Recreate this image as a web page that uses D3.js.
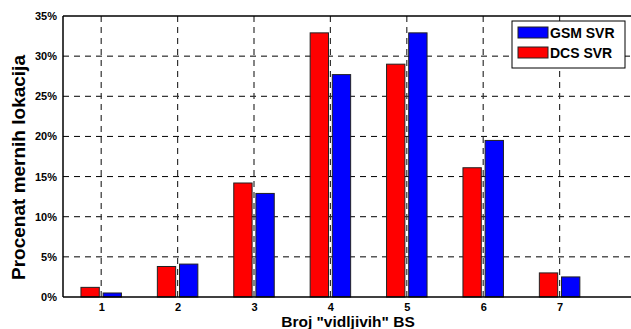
<!DOCTYPE html>
<html lang="en">
<head>
    <meta charset="UTF-8">
    <title>Broj vidljivih BS</title>
    <script src="https://d3js.org/d3.v7.min.js"></script>
    <style>
        body { margin: 0; background: #fff; }
        text { font-family: "Liberation Sans", Arial, sans-serif; font-weight: bold; }
    </style>
</head>
<body>
    <div id="chart"></div>
    <script>
        const categories = [1, 2, 3, 4, 5, 6, 7];
        const dcsValues = [1.2, 3.8, 14.2, 32.9, 29.0, 16.1, 3.0];
        const gsmValues = [0.5, 4.1, 12.9, 27.7, 32.9, 19.5, 2.5];
        const yTicks = [0, 5, 10, 15, 20, 25, 30, 35];

        const width = 631, height = 329;
        const margin = { top: 16, right: -5, bottom: 32, left: 63 };

        const svg = d3.select("#chart")
            .append("svg")
            .attr("width", width)
            .attr("height", height);

        const x = d3.scaleLinear()
            .domain([0.5, 8])
            .range([margin.left, width - margin.right]);

        const y = d3.scaleLinear()
            .domain([0, 35])
            .range([height - margin.bottom, margin.top]);

        // grid
        const grid = svg.append("g");
        grid.selectAll(".hg")
            .data(yTicks.slice(1, -1))
            .join("line")
            .attr("x1", margin.left).attr("x2", width)
            .attr("y1", d => y(d)).attr("y2", d => y(d))
            .attr("stroke", "#000")
            .attr("stroke-width", 1)
            .attr("stroke-dasharray", "6,5");
        grid.selectAll(".vg")
            .data(categories)
            .join("line")
            .attr("x1", d => x(d)).attr("x2", d => x(d))
            .attr("y1", margin.top).attr("y2", y(0))
            .attr("stroke", "#333")
            .attr("stroke-width", 1.2)
            .attr("stroke-dasharray", "6,5");

        // bars
        const barW = 0.24;
        const off = 0.145;
        svg.append("g").selectAll("rect")
            .data(categories)
            .join("rect")
            .attr("x", (d) => x(d - off - barW / 2))
            .attr("width", x(barW) - x(0))
            .attr("y", (d, i) => y(dcsValues[i]))
            .attr("height", (d, i) => y(0) - y(dcsValues[i]))
            .attr("fill", "#ff0000")
            .attr("stroke", "#222")
            .attr("stroke-width", 1);

        svg.append("g").selectAll("rect")
            .data(categories)
            .join("rect")
            .attr("x", (d) => x(d + off - barW / 2))
            .attr("width", x(barW) - x(0))
            .attr("y", (d, i) => y(gsmValues[i]))
            .attr("height", (d, i) => y(0) - y(gsmValues[i]))
            .attr("fill", "#0000ff")
            .attr("stroke", "#222")
            .attr("stroke-width", 1);

        // axes
        const yAxis = d3.axisLeft(y)
            .tickValues(yTicks)
            .tickFormat(d => d + "%")
            .tickSize(0)
            .tickPadding(6);
        const gy = svg.append("g")
            .attr("transform", `translate(${margin.left},0)`)
            .call(yAxis);
        gy.select(".domain").remove();
        gy.selectAll("text").style("font-size", "11px").attr("fill", "#000");

        const xAxis = d3.axisBottom(x)
            .tickValues(categories)
            .tickFormat(d3.format("d"))
            .tickSize(0)
            .tickPadding(6);
        const gx = svg.append("g")
            .attr("transform", `translate(0,${y(0)})`)
            .call(xAxis);
        gx.select(".domain").remove();
        gx.selectAll("text").style("font-size", "11px").attr("fill", "#000");

        // frame
        svg.append("line")
            .attr("x1", margin.left).attr("x2", margin.left)
            .attr("y1", margin.top).attr("y2", y(0))
            .attr("stroke", "#000").attr("stroke-width", 1.5);
        svg.append("line")
            .attr("x1", margin.left).attr("x2", width)
            .attr("y1", margin.top).attr("y2", margin.top)
            .attr("stroke", "#000").attr("stroke-width", 1.5);
        svg.append("line")
            .attr("x1", margin.left).attr("x2", width)
            .attr("y1", y(0)).attr("y2", y(0))
            .attr("stroke", "#000").attr("stroke-width", 1.5);

        // axis titles
        svg.append("text")
            .attr("transform", `translate(25,${(margin.top + y(0)) / 2 + 11}) rotate(-90)`)
            .attr("text-anchor", "middle")
            .style("font-size", "19px")
            .text("Procenat mernih lokacija");

        svg.append("text")
            .attr("x", 348)
            .attr("y", 327)
            .attr("text-anchor", "middle")
            .style("font-size", "15.5px")
            .text('Broj "vidljivih" BS');

        // legend
        const legend = svg.append("g");
        legend.append("rect")
            .attr("x", 512).attr("y", 21)
            .attr("width", 113).attr("height", 47)
            .attr("fill", "#fff")
            .attr("stroke", "#000").attr("stroke-width", 1);
        const items = [{ name: "GSM SVR", color: "#0000ff" }, { name: "DCS SVR", color: "#ff0000" }];
        legend.selectAll(".sw")
            .data(items)
            .join("rect")
            .attr("x", 518).attr("y", (d, i) => 27 + i * 20)
            .attr("width", 30).attr("height", 11)
            .attr("fill", d => d.color)
            .attr("stroke", "#222").attr("stroke-width", 1);
        legend.selectAll(".lt")
            .data(items)
            .join("text")
            .attr("x", 550).attr("y", (d, i) => 37.5 + i * 20)
            .style("font-size", "14px")
            .text(d => d.name);
    </script>
</body>
</html>
